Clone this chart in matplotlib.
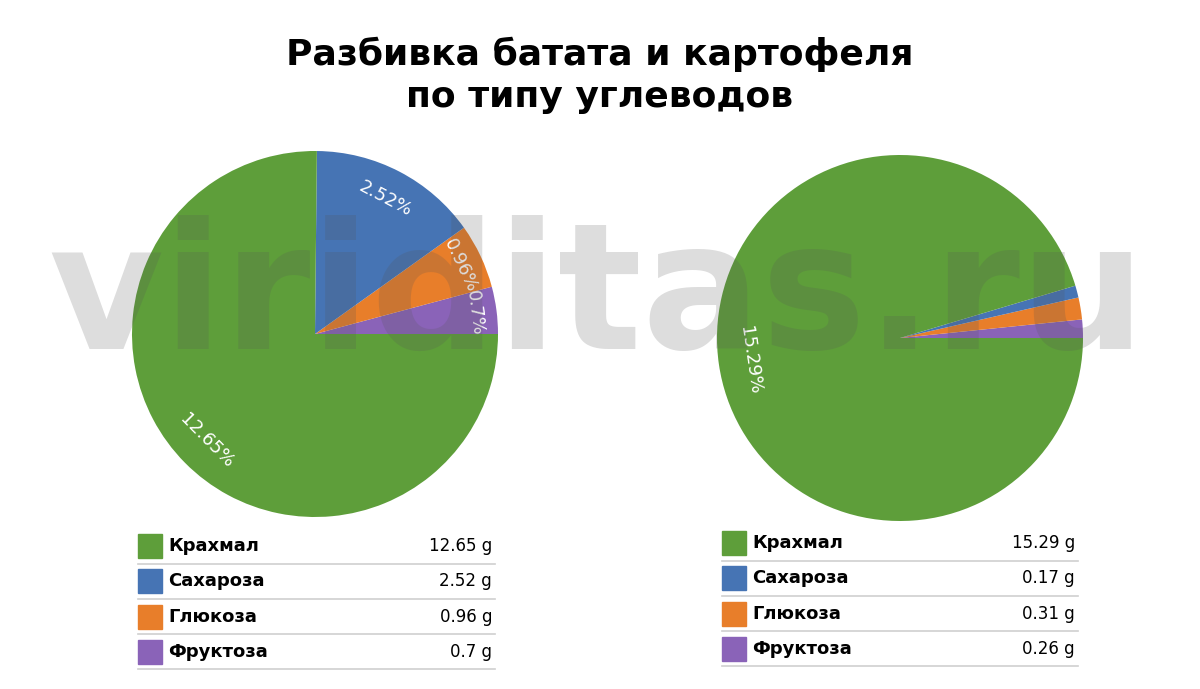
import matplotlib
matplotlib.use("Agg")
import matplotlib.pyplot as plt
import numpy as np

categories = ["Крахмал", "Сахароза", "Глюкоза", "Фруктоза"]
sweet_potato = [12.65, 2.52, 0.96, 0.7]
potato = [15.29, 0.17, 0.31, 0.26]
colors = ["#5E9E3A", "#4674B4", "#E87E2A", "#8A63B8"]
title = "Разбивка батата и картофеля\nпо типу углеводов"

W, H = 1200, 689
fig = plt.figure(figsize=(12, 6.89), dpi=100)
fig.patch.set_facecolor("white")

def ax_px(x0, y0, x1, y1):
    return fig.add_axes([x0 / W, 1 - y1 / H, (x1 - x0) / W, (y1 - y0) / H])

fig.text(0.5, 1 - 75 / H, title, ha="center", va="center", fontsize=26,
         fontweight="heavy", color="black", linespacing=1.3)

def draw_pie(cx, cy, r, vals):
    ax = ax_px(cx - r, cy - r, cx + r, cy + r)
    order = [3, 2, 1, 0]
    v = [vals[i] for i in order]
    c = [colors[i] for i in order]
    total = sum(v)
    wedges, _ = ax.pie(v, colors=c, startangle=0, counterclock=True,
                       wedgeprops=dict(linewidth=0))
    for w, val in zip(wedges, v):
        if val / total < 0.03:
            continue  # label would not fit inside the thin slice
        mid = np.deg2rad((w.theta1 + w.theta2) / 2)
        rot = np.rad2deg(mid) - 90
        while rot > 90:
            rot -= 180
        while rot < -90:
            rot += 180
        rr = 0.83 if val > 2 else 0.88
        ax.text(rr * np.cos(mid), rr * np.sin(mid), f"{val}%", ha="center",
                va="center", rotation=rot, rotation_mode="anchor",
                color="white", fontsize=13)
    ax.set_xlim(-1, 1)
    ax.set_ylim(-1, 1)
    ax.set_aspect("equal")
    ax.axis("off")

draw_pie(315, 334, 183, sweet_potato)
draw_pie(900, 338, 183, potato)

def legend(x0, x1, y0, vals):
    ax = fig.add_axes([0, 0, 1, 1], facecolor="none")
    ax.set_xlim(0, W)
    ax.set_ylim(H, 0)
    ax.axis("off")
    for i, (cat, val) in enumerate(zip(categories, vals)):
        y = y0 + i * 35.3
        ax.add_patch(plt.Rectangle((x0, y - 12), 24, 24, color=colors[i]))
        ax.text(x0 + 30, y, cat, va="center", ha="left", fontsize=13,
                fontweight="bold")
        ax.text(x1 - 3, y, f"{val} g", va="center", ha="right", fontsize=12)
        ax.plot([x0, x1], [y + 17.5, y + 17.5], color="#cfcfcf", lw=1.2)

legend(138, 495, 546, sweet_potato)
legend(722, 1078, 543, potato)

fig.text(597 / W, 1 - 300 / H, "viriditas.ru", ha="center", va="center",
         fontsize=127, fontweight="heavy", color="#555555", alpha=0.2,
         zorder=10)

fig.savefig("out.png", dpi=100)
